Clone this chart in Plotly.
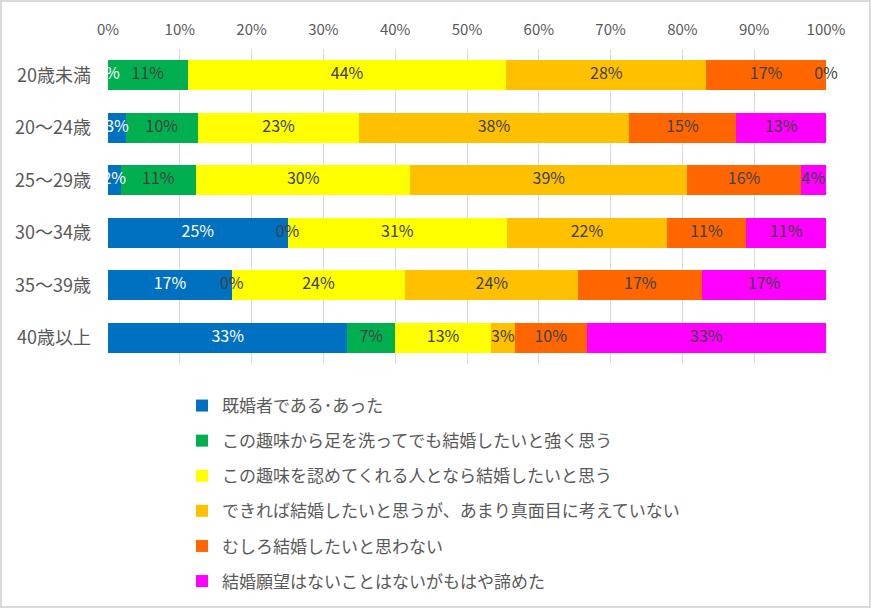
import plotly.graph_objects as go

categories = ["20歳未満", "20～24歳", "25～29歳", "30～34歳", "35～39歳", "40歳以上"]
series_names = [
    "既婚者である･あった",
    "この趣味から足を洗ってでも結婚したいと強く思う",
    "この趣味を認めてくれる人となら結婚したいと思う",
    "できれば結婚したいと思うが、あまり真面目に考えていない",
    "むしろ結婚したいと思わない",
    "結婚願望はないことはないがもはや諦めた",
]
married = [0.0, 2.5, 1.75, 25.0, 17.24, 33.33]
quit_hobby = [11.1, 10.0, 10.53, 0.0, 0.0, 6.67]
accepting = [44.4, 22.5, 29.82, 30.6, 24.14, 13.33]
if_possible = [27.8, 37.5, 38.6, 22.2, 24.14, 3.33]
rather_not = [16.7, 15.0, 15.79, 11.1, 17.24, 10.0]
given_up = [0.0, 12.5, 3.51, 11.1, 17.24, 33.34]
series_values = [married, quit_hobby, accepting, if_possible, rather_not, given_up]
colors = ["#0070C0", "#00B050", "#FFFF00", "#FFC000", "#FF6600", "#FF00FF"]
label_colors = ["#FFFFFF", "#404040", "#404040", "#404040", "#404040", "#404040"]
tick_vals = [0, 10, 20, 30, 40, 50, 60, 70, 80, 90, 100]
tick_text = [f"{v}%" for v in tick_vals]

FONT = "Noto Sans CJK JP, Noto Sans, sans-serif"

fig = go.Figure()
for name, vals, col in zip(series_names, series_values, colors):
    fig.add_trace(go.Bar(
        x=vals, y=categories, orientation="h", name=name,
        marker=dict(color=col, line=dict(width=0)),
        width=0.57, legendgroup=name, hoverinfo="skip",
    ))

# data labels at the centre of each segment
cum = [0.0] * len(categories)
for i, (vals, tc) in enumerate(zip(series_values, label_colors)):
    mids = [c + v / 2 for c, v in zip(cum, vals)]
    cum = [c + v for c, v in zip(cum, vals)]
    fig.add_trace(go.Scatter(
        x=mids, y=categories, mode="text",
        text=[f"{int(v + 0.5)}%" for v in vals],
        textfont=dict(family=FONT, size=16, color=tc),
        showlegend=False, hoverinfo="skip",
        cliponaxis=(i == 0),
    ))

L, R, T, B = 108, 45, 49, 244
W, H = 871, 608
pw, ph = W - L - R, H - T - B

fig.update_layout(
    width=W, height=H, barmode="stack",
    margin=dict(l=L, r=R, t=T, b=B, autoexpand=False),
    paper_bgcolor="white", plot_bgcolor="white",
    font=dict(family=FONT, color="#595959", size=14),
    xaxis=dict(
        side="top", range=[0, 100], tickvals=tick_vals, ticktext=tick_text,
        showgrid=True, gridcolor="#D9D9D9", gridwidth=1, zeroline=False,
        showline=False, ticks="", tickfont=dict(size=15, color="#595959"),
        ticklabelstandoff=10, fixedrange=True, automargin=False,
    ),
    yaxis=dict(
        autorange="reversed", showgrid=False, zeroline=False,
        showline=False, ticks="", tickfont=dict(size=18, color="#595959"),
        ticklabelstandoff=16, fixedrange=True, automargin=False,
    ),
    legend=dict(
        orientation="v", x=(182 - L) / pw, xanchor="left",
        y=(H - B - 388) / ph, yanchor="top",
        font=dict(size=17, color="#595959"),
        tracegroupgap=10, traceorder="grouped",
        bgcolor="rgba(0,0,0,0)",
    ),
    shapes=[dict(
        type="rect", xref="paper", yref="paper",
        x0=(1 - L) / pw, x1=(W - 1 - L) / pw,
        y0=(H - B - (H - 1)) / ph, y1=(H - B - 1) / ph,
        line=dict(color="#D9D9D9", width=2), layer="below",
    )],
)

fig.write_html("out.html")
